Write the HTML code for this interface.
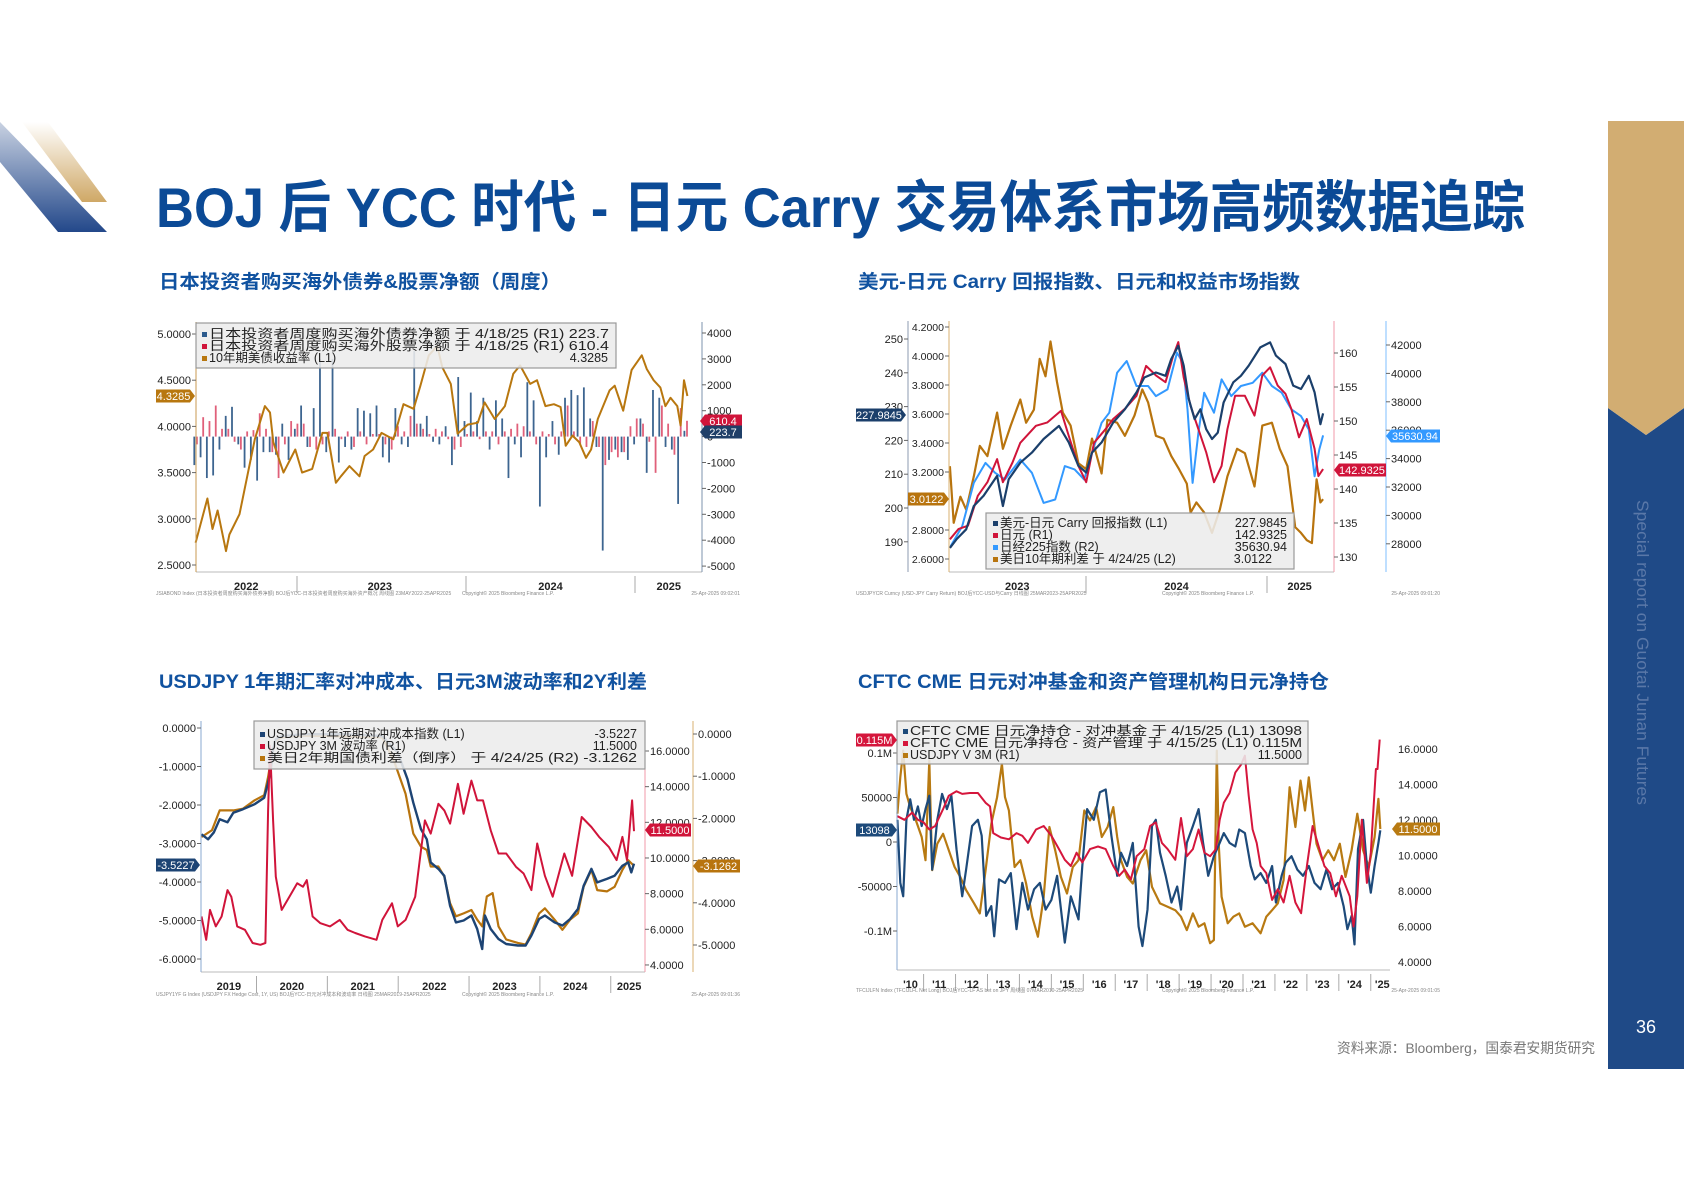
<!DOCTYPE html>
<html><head><meta charset="utf-8"><title>BOJ 后 YCC 时代 - 日元 Carry 交易体系市场高频数据追踪</title>
<style>
html,body{margin:0;padding:0;background:#fff;}
svg{display:block;font-family:"Liberation Sans","Noto Sans CJK SC",sans-serif;}
</style></head>
<body>
<svg id="page" xmlns="http://www.w3.org/2000/svg" width="1684" height="1191" viewBox="0 0 1684 1191">
<defs>
<linearGradient id="gb" x1="0" y1="0" x2="0" y2="1"><stop offset="0" stop-color="#c9d2e2"/><stop offset="1" stop-color="#23488a"/></linearGradient>
<linearGradient id="gg" x1="0" y1="0" x2="0" y2="1"><stop offset="0" stop-color="#ffffff"/><stop offset="1" stop-color="#cfa866"/></linearGradient>
</defs>
<rect x="0" y="0" width="1684" height="1191" fill="#fff"/>
<polygon points="0,122 0,162 58,232 107,232" fill="url(#gb)"/>
<polygon points="22,122 48,122 107,202 82,202" fill="url(#gg)"/>
<text x="156" y="227" font-size="56" font-weight="bold" fill="#0b4a96" textLength="1369" lengthAdjust="spacingAndGlyphs">BOJ 后 YCC 时代 - 日元 Carry 交易体系市场高频数据追踪</text>
<text x="159" y="288" font-size="19" font-weight="bold" fill="#1052a0" textLength="402" lengthAdjust="spacingAndGlyphs">日本投资者购买海外债券&amp;股票净额（周度）</text>
<text x="858" y="288" font-size="19" font-weight="bold" fill="#1052a0" textLength="442" lengthAdjust="spacingAndGlyphs">美元-日元 Carry 回报指数、日元和权益市场指数</text>
<text x="159" y="688" font-size="19" font-weight="bold" fill="#1052a0" textLength="488" lengthAdjust="spacingAndGlyphs">USDJPY 1年期汇率对冲成本、日元3M波动率和2Y利差</text>
<text x="858" y="688" font-size="19" font-weight="bold" fill="#1052a0" textLength="471" lengthAdjust="spacingAndGlyphs">CFTC CME 日元对冲基金和资产管理机构日元净持仓</text>
<polygon points="1608,408 1646,435 1684,408 1684,1069 1608,1069" fill="#1f4a87"/>
<polygon points="1608,121 1684,121 1684,408 1646,435 1608,408" fill="#d2ad72"/>
<text x="0" y="0" transform="translate(1637,500) rotate(90)" font-size="17" fill="#5a78a8" textLength="305" lengthAdjust="spacingAndGlyphs">Special report on Guotai Junan Futures</text>
<text x="1646" y="1033" font-size="18" fill="#fff" text-anchor="middle">36</text>
<text x="1595" y="1053" font-size="14" fill="#777" text-anchor="end" textLength="258" lengthAdjust="spacingAndGlyphs">资料来源：Bloomberg，国泰君安期货研究</text>
<g id="charts"></g>
</svg>
<script>
// ===== Chart 1 data =====
const c1YieldDates=[2022.40,2022.47,2022.50,2022.53,2022.58,2022.60,2022.66,2022.71,2022.75,2022.81,2022.84,2022.86,2022.92,2022.99,2023.03,2023.09,2023.15,2023.18,2023.23,2023.26,2023.31,2023.37,2023.40,2023.45,2023.50,2023.57,2023.63,2023.69,2023.73,2023.78,2023.83,2023.86,2023.91,2023.95,2024.01,2024.07,2024.11,2024.17,2024.23,2024.28,2024.32,2024.38,2024.42,2024.47,2024.52,2024.56,2024.59,2024.63,2024.67,2024.71,2024.74,2024.78,2024.85,2024.88,2024.93,2024.98,2025.04,2025.07,2025.11,2025.15,2025.18,2025.21,2025.25,2025.27,2025.29,2025.31];
const c1YieldVals=[2.74,3.22,2.89,3.09,2.65,2.83,3.05,3.50,3.86,4.22,4.15,3.83,3.50,3.75,3.50,3.54,3.93,3.93,3.39,3.46,3.57,3.46,3.68,3.75,3.93,3.86,4.24,4.19,4.44,4.77,4.87,4.64,4.46,3.92,4.02,4.04,4.26,4.08,4.22,4.57,4.66,4.46,4.50,4.22,4.24,4.21,3.79,3.90,3.83,3.66,3.75,4.08,4.39,4.44,4.17,4.61,4.77,4.62,4.50,4.42,4.22,4.31,4.22,4.01,4.50,4.3285];
const c1BarStart=2022.40, c1BarEnd=2025.30;
const c1BondVals=[-1.1,-0.8,-1.6,-1.5,-0.5,0.8,1.15,-0.3,-1.2,-0.9,-1.7,-0.6,-0.6,-0.7,0.5,-0.9,0.3,1.2,-0.4,1.1,3.0,-0.6,3.0,-1.0,-0.4,-0.5,1.1,1.0,0.9,1.2,-0.8,-1.0,1.1,-0.3,-0.4,3.3,0.5,0.8,-0.2,-0.3,0.4,-1.1,2.3,0.6,1.7,0.6,1.5,-0.5,1.4,0.7,-1.6,-0.3,-0.8,2.1,1.4,-2.7,-0.8,0.6,-0.7,1.5,1.8,1.6,1.9,0.7,-0.4,-4.4,-0.9,-0.5,-0.6,-0.9,-0.3,0.7,-1.4,1.8,1.5,-0.4,-0.5,-2.6,0.2237];
const c1StockVals=[-0.3,0.75,0.6,1.2,0.3,0.3,-0.2,-0.5,0.2,0.25,0.9,0.3,-0.6,-1.6,-0.3,0.6,0.5,0.5,-0.4,-0.5,-0.3,0.2,0.3,-0.1,0.2,-0.4,0.2,-0.3,0.1,0.1,-0.3,-0.5,0.4,0.2,0.8,0.5,0.3,0.1,0.3,0.2,-0.1,-0.5,-0.4,0.1,0.2,-0.1,0.2,0.2,-0.3,0.2,0.3,0.5,0.4,0.2,-0.3,0.2,0.1,-0.3,0.2,1.2,0.2,-0.3,-0.4,0.6,-0.4,-1.1,-0.6,-0.8,-0.6,0.4,0.7,0.5,-0.2,-1.4,1.2,0.5,-0.7,1.1,0.6104];
const c1LeftTicks=[5.0,4.5,4.0,3.5,3.0,2.5];
const c1RightTicks=[4,3,2,1,0,-1,-2,-3,-4,-5];
const c1RightLabels=["4000","3000","2000","1000","0","-1000","-2000","-3000","-4000","-5000"];
const c1Years=["2022","2023","2024","2025"];
const c1YearPos=[2022.70,2023.49,2024.50,2025.20];
const c1YearDiv=[2023,2024,2025];

// ===== Chart 2 data =====
const c2CarryDates=[2023.248,2023.284,2023.338,2023.380,2023.434,2023.509,2023.541,2023.573,2023.637,2023.701,2023.766,2023.851,2023.905,2023.958,2024.001,2024.033,2024.086,2024.150,2024.215,2024.279,2024.322,2024.386,2024.439,2024.471,2024.510,2024.540,2024.568,2024.600,2024.632,2024.664,2024.696,2024.728,2024.760,2024.814,2024.856,2024.899,2024.963,2025.017,2025.049,2025.102,2025.145,2025.188,2025.231,2025.263,2025.295,2025.310];
const c2CarryVals=[188.2,190.7,193.7,200.6,203.6,209.5,200.6,208.5,213.4,216.4,220.4,224.3,219.4,212.5,210.5,216.4,219.4,225.3,229.2,234.2,238.6,240.1,239.1,244.1,248.0,242.1,232.2,226.3,229.2,223.3,220.4,222.3,231.2,237.2,239.1,242.1,247.5,249.0,245.1,242.6,236.2,235.2,239.1,234.2,224.8,227.98];
const c2YenDates=[2023.248,2023.295,2023.348,2023.402,2023.455,2023.509,2023.541,2023.594,2023.637,2023.723,2023.787,2023.862,2023.905,2023.958,2024.001,2024.044,2024.108,2024.150,2024.215,2024.279,2024.332,2024.386,2024.439,2024.482,2024.510,2024.540,2024.578,2024.621,2024.664,2024.707,2024.749,2024.781,2024.824,2024.878,2024.931,2024.974,2025.017,2025.059,2025.102,2025.134,2025.177,2025.220,2025.263,2025.284,2025.310];
const c2YenVals=[132.6,134.1,134.6,139.0,141.0,144.4,141.0,143.9,146.8,149.3,149.8,151.5,147.8,143.4,141.0,146.8,148.8,150.3,151.8,153.7,158.1,156.7,155.7,159.6,161.6,156.4,152.2,148.8,145.4,141.0,143.4,148.8,153.7,153.7,150.8,156.7,157.9,155.2,154.0,151.8,147.6,150.3,145.9,141.9,142.93];
const c2NikDates=[2023.252,2023.316,2023.380,2023.445,2023.498,2023.552,2023.637,2023.701,2023.766,2023.830,2023.883,2023.937,2023.990,2024.033,2024.086,2024.129,2024.172,2024.225,2024.279,2024.343,2024.386,2024.450,2024.503,2024.536,2024.561,2024.589,2024.621,2024.653,2024.707,2024.749,2024.803,2024.856,2024.921,2024.974,2025.027,2025.081,2025.134,2025.188,2025.231,2025.263,2025.289,2025.310];
const c2NikVals=[27830,29240,32290,33700,33000,32530,33940,33000,30880,31120,33470,33240,32530,34410,36520,37230,40050,40870,39110,39110,38400,38870,41460,40750,37470,32290,35820,38640,37230,39580,38400,39110,39340,40050,39110,38640,37470,36990,36050,32760,34640,35630.94];
const c2SprDates=[2023.248,2023.269,2023.306,2023.338,2023.380,2023.413,2023.455,2023.509,2023.541,2023.584,2023.637,2023.669,2023.712,2023.744,2023.776,2023.804,2023.840,2023.872,2023.915,2023.958,2024.001,2024.033,2024.086,2024.118,2024.172,2024.215,2024.268,2024.311,2024.343,2024.386,2024.429,2024.471,2024.514,2024.557,2024.578,2024.610,2024.653,2024.696,2024.739,2024.781,2024.835,2024.878,2024.931,2024.974,2025.027,2025.070,2025.113,2025.156,2025.188,2025.220,2025.248,2025.274,2025.295,2025.310];
const c2SprVals=[3.24,2.85,3.03,2.94,3.17,3.38,3.31,3.61,3.36,3.52,3.70,3.54,3.63,3.98,3.86,4.10,3.82,3.61,3.52,3.26,3.22,3.43,3.19,3.56,3.54,3.45,3.59,3.77,3.68,3.45,3.43,3.31,3.22,3.12,2.92,2.99,2.92,2.78,2.94,3.17,3.36,3.33,3.10,3.52,3.54,3.36,3.24,2.82,2.78,2.73,2.71,3.15,2.99,3.0122];
const c2L1Ticks=[250,240,230,220,210,200,190];
const c2L2Ticks=[4.2,4.0,3.8,3.6,3.4,3.2,2.8,2.6];
const c2R1Ticks=[160,155,150,145,140,135,130];
const c2R2Ticks=[42000,40000,38000,36000,34000,32000,30000,28000];
const c2Years=["2023","2024","2025"];
const c2YearPos=[2023.62,2024.50,2025.18];
const c2YearDiv=[2024,2025];

// ===== Chart 3 data =====
const c3HedgeDates=[2019.224,2019.317,2019.399,2019.481,2019.590,2019.672,2019.809,2019.973,2020.109,2020.164,2020.202,2020.235,2020.273,2020.355,2020.683,2021.230,2021.776,2021.995,2022.131,2022.213,2022.322,2022.404,2022.459,2022.568,2022.650,2022.732,2022.814,2022.923,2023.033,2023.115,2023.186,2023.224,2023.306,2023.415,2023.525,2023.689,2023.798,2023.880,2023.989,2024.071,2024.208,2024.317,2024.426,2024.536,2024.617,2024.727,2024.809,2024.945,2025.055,2025.164,2025.246,2025.290,2025.328];
const c3HedgeVals=[-2.76,-2.89,-2.71,-2.37,-2.45,-2.20,-2.11,-1.98,-1.81,-1.42,-1.07,-0.55,-0.29,-0.21,-0.16,-0.16,-0.21,-0.64,-1.33,-1.94,-2.63,-2.89,-3.49,-3.66,-3.84,-4.62,-5.05,-5.00,-4.87,-5.22,-5.74,-4.87,-5.22,-5.48,-5.61,-5.65,-5.65,-5.39,-4.96,-4.87,-5.05,-5.13,-4.96,-4.70,-4.10,-3.66,-4.01,-3.92,-3.84,-3.58,-3.49,-3.75,-3.5227];
const c3SprDates=[2019.224,2019.372,2019.481,2019.590,2019.672,2019.809,2019.973,2020.109,2020.164,2020.219,2020.273,2020.355,2020.683,2021.230,2021.776,2021.940,2022.104,2022.213,2022.322,2022.404,2022.459,2022.568,2022.650,2022.732,2022.814,2022.923,2023.033,2023.115,2023.186,2023.251,2023.333,2023.415,2023.525,2023.689,2023.798,2023.880,2023.989,2024.071,2024.208,2024.317,2024.426,2024.536,2024.617,2024.727,2024.809,2024.945,2025.055,2025.164,2025.246,2025.328];
const c3SprVals=[-2.44,-2.28,-1.81,-1.81,-1.81,-1.77,-1.57,-1.45,-1.02,-0.47,-0.16,-0.08,-0.04,-0.06,-0.08,-0.63,-1.42,-2.36,-2.67,-2.75,-3.14,-3.14,-3.38,-4.01,-4.32,-4.25,-4.17,-4.40,-4.56,-3.85,-3.77,-4.56,-4.87,-4.95,-4.99,-4.72,-4.25,-4.13,-4.40,-4.64,-4.40,-4.25,-3.62,-3.22,-3.70,-3.73,-3.62,-3.22,-2.99,-3.1262];
const c3VolDates=[2019.224,2019.290,2019.344,2019.426,2019.508,2019.590,2019.645,2019.727,2019.836,2019.945,2020.055,2020.126,2020.164,2020.191,2020.235,2020.273,2020.355,2020.464,2020.574,2020.656,2020.710,2020.792,2020.902,2021.038,2021.175,2021.284,2021.393,2021.530,2021.694,2021.776,2021.913,2021.995,2022.104,2022.240,2022.322,2022.377,2022.459,2022.568,2022.650,2022.732,2022.842,2022.923,2023.033,2023.115,2023.197,2023.306,2023.415,2023.525,2023.661,2023.770,2023.880,2023.962,2024.071,2024.180,2024.344,2024.454,2024.590,2024.727,2024.836,2024.973,2025.082,2025.164,2025.230,2025.301,2025.328];
const c3VolVals=[6.72,5.41,7.09,6.16,6.72,8.20,7.83,6.16,5.97,5.23,5.13,5.23,12.67,16.3,12.11,8.95,7.09,7.83,8.58,8.39,8.76,6.72,6.34,6.16,6.53,5.97,5.79,5.60,5.41,6.53,7.46,6.16,6.53,7.83,10.44,12.11,11.37,13.04,12.67,11.93,14.16,12.48,14.34,13.23,13.23,11.55,10.25,10.25,9.51,9.13,8.20,10.81,9.00,7.83,10.25,9.00,12.30,11.74,11.18,10.62,9.88,11.18,9.88,13.23,11.50];
const c3LTicks=[0,-1,-2,-3,-4,-5,-6];
const c3R1Ticks=[16,14,12,10,8,6,4];
const c3R2Ticks=[0,-1,-2,-3,-4,-5];
const c3Years=["2019","2020","2021","2022","2023","2024","2025"];
const c3YearPos=[2019.61,2020.50,2021.50,2022.51,2023.50,2024.50,2025.26];
const c3YearDiv=[2020,2021,2022,2023,2024,2025];

// ===== Chart 4 data =====
const c4HfDates=[2010.18,2010.27,2010.36,2010.46,2010.58,2010.70,2010.82,2010.94,2011.06,2011.18,2011.27,2011.43,2011.58,2011.73,2011.87,2012.03,2012.21,2012.33,2012.52,2012.70,2012.82,2012.96,2013.12,2013.21,2013.36,2013.55,2013.73,2013.91,2014.09,2014.27,2014.46,2014.64,2014.82,2015.00,2015.18,2015.42,2015.61,2015.85,2015.97,2016.12,2016.33,2016.52,2016.70,2016.88,2017.06,2017.18,2017.37,2017.55,2017.73,2017.85,2018.01,2018.15,2018.27,2018.40,2018.58,2018.76,2018.94,2019.06,2019.24,2019.43,2019.61,2019.75,2019.91,2020.09,2020.27,2020.40,2020.58,2020.76,2020.88,2021.06,2021.24,2021.37,2021.55,2021.73,2021.91,2022.03,2022.21,2022.34,2022.52,2022.70,2022.88,2023.06,2023.24,2023.43,2023.61,2023.79,2023.97,2024.15,2024.27,2024.40,2024.49,2024.60,2024.76,2024.88,2025.00,2025.12,2025.24,2025.30];
const c4HfVals=[25,-46,-61,25,48,25,40,18,37,52,-31,25,54,37,52,-8,-61,-31,18,25,7,-83,-72,-106,-42,-46,-35,-98,-46,-76,-53,-46,-76,-65,-38,-113,-61,-87,-27,37,25,56,59,7,-38,-12,-27,-1,-95,-117,-76,18,25,-12,-38,-68,-50,-76,-1,18,37,-1,-38,-16,-1,10,-1,-5,14,10,-27,-42,-35,-46,-27,-68,-38,-23,-16,-31,-38,-27,-46,-53,-31,-53,-46,-72,-98,-83,-115,-8,25,-27,-57,-27,-1,13.098];
const c4AmDates=[2010.18,2010.40,2010.64,2010.82,2011.00,2011.18,2011.36,2011.61,2011.79,2012.03,2012.21,2012.45,2012.70,2012.94,2013.08,2013.18,2013.42,2013.67,2013.91,2014.09,2014.27,2014.52,2014.76,2015.00,2015.24,2015.42,2015.61,2015.79,2015.97,2016.21,2016.46,2016.70,2016.94,2017.12,2017.30,2017.49,2017.67,2017.91,2018.09,2018.27,2018.46,2018.64,2018.88,2019.06,2019.24,2019.43,2019.61,2019.79,2019.97,2020.15,2020.27,2020.40,2020.58,2020.76,2020.94,2021.06,2021.18,2021.30,2021.43,2021.55,2021.73,2021.91,2022.09,2022.27,2022.46,2022.64,2022.82,2023.00,2023.18,2023.37,2023.55,2023.73,2023.91,2024.09,2024.34,2024.46,2024.58,2024.72,2024.88,2025.00,2025.16,2025.21,2025.28];
const c4AmVals=[29,25,33,25,22,14,18,37,52,57,54,55,55,44,40,10,5,3,10,7,-1,14,18,7,-8,-20,-27,-12,-23,-8,-5,-8,-27,-38,-31,-42,-16,-8,18,22,-1,-8,-20,27,-16,-8,14,-12,-16,-8,25,44,55,78,87,97,52,14,-1,-27,-35,-65,-53,-68,-38,-68,-80,-27,18,-5,-27,-35,-61,-38,-61,-95,-61,25,-46,-12,82,82,115];
const c4VolDates=[2010.18,2010.27,2010.36,2010.46,2010.58,2010.76,2010.94,2011.06,2011.18,2011.27,2011.43,2011.61,2011.79,2011.97,2012.15,2012.33,2012.58,2012.76,2012.94,2013.12,2013.30,2013.45,2013.55,2013.67,2013.85,2014.03,2014.21,2014.40,2014.58,2014.76,2014.94,2015.12,2015.30,2015.49,2015.67,2015.85,2016.03,2016.21,2016.40,2016.58,2016.76,2016.94,2017.06,2017.18,2017.37,2017.55,2017.79,2017.97,2018.15,2018.40,2018.64,2018.88,2019.06,2019.24,2019.43,2019.61,2019.79,2019.97,2020.09,2020.18,2020.24,2020.33,2020.52,2020.70,2020.88,2021.06,2021.30,2021.55,2021.73,2021.91,2022.09,2022.27,2022.46,2022.64,2022.80,2022.94,2023.06,2023.18,2023.30,2023.49,2023.67,2023.85,2024.03,2024.21,2024.40,2024.58,2024.76,2024.94,2025.12,2025.24,2025.30];
const c4VolVals=[12.36,14.41,15.91,13.48,12.73,11.98,11.05,9.74,15.35,9.18,10.67,11.23,10.30,9.36,8.80,8.06,7.31,6.75,9.18,11.79,13.29,15.16,13.29,12.54,9.36,9.74,8.43,6.56,5.44,7.68,11.61,10.30,8.80,7.87,9.36,9.74,12.54,11.98,12.73,11.05,11.61,12.73,11.05,9.74,8.80,8.43,9.74,10.30,8.24,7.31,7.12,6.93,6.56,5.81,6.75,6.00,6.19,5.07,5.25,15.91,10.67,7.68,6.19,6.56,6.75,6.00,6.19,5.63,6.56,6.93,7.31,8.62,13.85,11.61,14.22,12.54,14.41,12.54,10.67,9.74,10.30,9.74,10.67,8.80,10.30,12.36,10.30,9.36,11.05,13.20,11.50];
const c4LTicks=[100,50,0,-50,-100];
const c4LLabels=["0.1M","50000","0","-50000","-0.1M"];
const c4RTicks=[16,14,12,10,8,6,4];
const c4Years=["'10","'11","'12","'13","'14","'15","'16","'17","'18","'19","'20","'21","'22","'23","'24","'25"];
const c4YearPos=[2010.59,2011.49,2012.50,2013.49,2014.50,2015.49,2016.50,2017.49,2018.50,2019.49,2020.48,2021.49,2022.49,2023.48,2024.49,2025.36];
const c4YearDiv=[2011,2012,2013,2014,2015,2016,2017,2018,2019,2020,2021,2022,2023,2024,2025];

// ===== Rendering =====
const NS='http://www.w3.org/2000/svg';
const root=document.getElementById('charts');
function el(tag,attrs,parent,name){
  const e=document.createElementNS(NS,tag);
  for(const k in attrs){e.setAttribute(k,attrs[k]);}
  
  
  parent.appendChild(e);
  return e;
}
function txt(parent,x,y,s,size,fill,anchor,name,extra){
  const a={x:x,y:y,'font-size':size,fill:fill,'text-anchor':anchor||'start'};
  if(extra){for(const k in extra){a[k]=extra[k];}}
  const t=el('text',a,parent,name);
  t.textContent=s;
  return t;
}
function series(parent,dates,vals,xf,yf,color,w,name){
  let d='';
  for(let i=0;i<dates.length;i++){d+=(i?'L':'M')+xf(dates[i]).toFixed(1)+' '+yf(vals[i]).toFixed(1);}
  el('path',{d:d,fill:'none',stroke:color,'stroke-width':w,'stroke-linejoin':'round'},parent,name);
}
function vline(parent,x,y1,y2,color,name,w){el('line',{x1:x,x2:x,y1:y1,y2:y2,stroke:color,'stroke-width':w||1},parent,name);}
function hline(parent,x1,x2,y,color,name){el('line',{x1:x1,x2:x2,y1:y,y2:y,stroke:color,'stroke-width':1},parent,name);}
function yTicks(parent,vals,labels,yf,axisX,side,size,name){
  for(let i=0;i<vals.length;i++){
    const y=yf(vals[i]);
    if(side==='left'){
      el('line',{x1:axisX-4,x2:axisX,y1:y,y2:y,stroke:'#666','stroke-width':1},parent,name+'-tick');
      txt(parent,axisX-5,y+4,labels[i],size,'#222','end',name+'-label');
    }else{
      el('line',{x1:axisX,x2:axisX+4,y1:y,y2:y,stroke:'#666','stroke-width':1},parent,name+'-tick');
      txt(parent,axisX+5,y+4,labels[i],size,'#222','start',name+'-label');
    }
  }
}
function years(parent,labels,pos,divs,xf,bottom,name){
  for(let i=0;i<labels.length;i++){txt(parent,xf(pos[i]),bottom+18,labels[i],11,'#222','middle',name+'-label',{'font-weight':'bold'});}
  for(let i=0;i<divs.length;i++){vline(parent,xf(divs[i]),bottom+4,bottom+21,'#aaa',name+'-divider');}
}
function tag(parent,x1,x2,y,s,color,pointRight,name){
  const h=6.5;
  const pts=pointRight?
    [x1,y-h,x2-5,y-h,x2,y,x2-5,y+h,x1,y+h]:
    [x1,y,x1+5,y-h,x2,y-h,x2,y+h,x1+5,y+h];
  const g=el('g',{},parent,name);
  el('polygon',{points:pts.join(' '),fill:color},g,name+'-bg');
  txt(g,(x1+x2)/2+(pointRight?-2:2),y+4,s,11,'#fff','middle',name+'-text');
}
function legendBox(parent,x1,y1,x2,y2,name){
  return el('rect',{x:x1,y:y1,width:x2-x1,height:y2-y1,fill:'#ececec','fill-opacity':0.88,stroke:'#999','stroke-width':1.2},parent,name);
}
function legendItem(parent,x,y,color,label,val,valX,len,name){
  const g=el('g',{},parent,name);
  el('rect',{x:x,y:y-6,width:5,height:5,fill:color},g,name+'-swatch');
  const ex=len?{textLength:len,lengthAdjust:'spacingAndGlyphs'}:null;
  txt(g,x+7,y,label,12.5,'#222','start',name+'-label',ex);
  if(val){txt(g,valX,y,val,12.5,'#222','end',name+'-value');}
}
function foot(parent,x1,x2,y,a,b,c,name){
  txt(parent,x1,y,a,5,'#888','start',name+'-ticker');
  txt(parent,(x1+x2)/2+60,y,b,5,'#888','middle',name+'-copyright');
  txt(parent,x2,y,c,5,'#888','end',name+'-timestamp');
}
function fmt4(v){return v.toFixed(4);}

// ---- Chart 1 ----
(function(){
  const g=el('g',{},root,'chart1');
  const xf=t=>297+(t-2023)*169;
  const yL=v=>334+(5-v)/0.5*46.2;
  const yR=v=>436.6-v*25.9;
  const top=322, bot=572;
  hline(g,196,702,bot,'#bbb','chart1-x-axis');
  const n=c1BondVals.length, step=(c1BarEnd-c1BarStart)/(n-1);
  for(let i=0;i<n;i++){
    const x=xf(c1BarStart+i*step);
    const v=c1BondVals[i], y0=yR(0), y1=yR(v);
    el('rect',{x:x-2.2,y:Math.min(y0,y1),width:1.8,height:Math.max(0.5,Math.abs(y1-y0)),fill:'#3d6590'},g,'bond-bar');
  }
  for(let i=0;i<c1StockVals.length;i++){
    const x=xf(c1BarStart+i*step);
    const v=c1StockVals[i], y0=yR(0), y1=yR(v);
    el('rect',{x:x+0.4,y:Math.min(y0,y1),width:1.8,height:Math.max(0.5,Math.abs(y1-y0)),fill:'#e0607a'},g,'stock-bar');
  }
  series(g,c1YieldDates,c1YieldVals,xf,yL,'#b8770f',2,'us10y-yield-line');
  vline(g,196,top,bot,'#c89a50','chart1-left-axis');
  vline(g,702,top,bot,'#7d93ad','chart1-right-axis');
  yTicks(g,c1LeftTicks,c1LeftTicks.map(fmt4),yL,196,'left',11,'chart1-left');
  yTicks(g,c1RightTicks,c1RightLabels,yR,702,'right',11,'chart1-right');
  years(g,c1Years,c1YearPos,c1YearDiv,xf,bot,'chart1-year');
  legendBox(g,196,323,616,368,'chart1-legend');
  legendItem(g,202,338,'#2b5a8c','日本投资者周度购买海外债券净额 于 4/18/25 (R1) 223.7',null,0,400,'legend-bond');
  legendItem(g,202,350,'#d0143a','日本投资者周度购买海外股票净额 于 4/18/25 (R1) 610.4',null,0,400,'legend-stock');
  legendItem(g,202,362,'#b8770f','10年期美债收益率 (L1)','4.3285',608,0,'legend-yield');
  tag(g,156,195,396,'4.3285','#b8770f',true,'chart1-tag-yield');
  tag(g,700,742,421,'610.4','#d0143a',false,'chart1-tag-stock');
  tag(g,700,742,432,'223.7','#1f3f68',false,'chart1-tag-bond');
  foot(g,156,740,595,'JSIABOND Index (日本投资者周度购买海外债券净额) BOJ后YCC-日本投资者周度购买海外资产概况  周线图 23MAY2022-25APR2025','Copyright© 2025 Bloomberg Finance L.P.','25-Apr-2025 09:02:01','chart1-footnote');
})();

// ---- Chart 2 ----
(function(){
  const g=el('g',{},root,'chart2');
  const xf=t=>1086+(t-2024)*181;
  const yL1=v=>339+(250-v)*3.38;
  const yL2=v=>327+(4.2-v)*145;
  const yR1=v=>353+(160-v)*6.8;
  const yR2=v=>345+(42000-v)*0.0142;
  const top=321, bot=572;
  hline(g,949,1334,bot,'#bbb','chart2-x-axis');
  series(g,c2SprDates,c2SprVals,xf,yL2,'#b8740e',2.2,'us-jp-10y-spread-line');
  series(g,c2NikDates,c2NikVals,xf,yR2,'#3399ff',2,'nikkei225-line');
  series(g,c2YenDates,c2YenVals,xf,yR1,'#d0143a',2,'usdjpy-line');
  series(g,c2CarryDates,c2CarryVals,xf,yL1,'#1b3f6b',2.2,'carry-index-line');
  vline(g,908,top,bot,'#8c9bb0','chart2-l1-axis');
  vline(g,949,top,bot,'#d8b070','chart2-l2-axis');
  vline(g,1334,top,bot,'#f09aa8','chart2-r1-axis');
  vline(g,1386,top,bot,'#7fbfff','chart2-r2-axis');
  yTicks(g,c2L1Ticks,c2L1Ticks.map(String),yL1,908,'left',11,'chart2-l1');
  yTicks(g,c2L2Ticks,c2L2Ticks.map(fmt4),yL2,949,'left',10.5,'chart2-l2');
  yTicks(g,c2R1Ticks,c2R1Ticks.map(String),yR1,1334,'right',11,'chart2-r1');
  yTicks(g,c2R2Ticks,c2R2Ticks.map(String),yR2,1386,'right',11,'chart2-r2');
  years(g,c2Years,c2YearPos,c2YearDiv,xf,bot,'chart2-year');
  legendBox(g,986,513,1294,569,'chart2-legend');
  legendItem(g,993,527,'#1b3f6b','美元-日元 Carry 回报指数 (L1)','227.9845',1287,0,'legend-carry');
  legendItem(g,993,539,'#d0143a','日元 (R1)','142.9325',1287,0,'legend-yen');
  legendItem(g,993,551,'#3399ff','日经225指数 (R2)','35630.94',1287,0,'legend-nikkei');
  legendItem(g,993,563,'#b8740e','美日10年期利差 于 4/24/25 (L2)','3.0122',1272,0,'legend-spread');
  tag(g,856,906,415,'227.9845','#1b3f6b',true,'chart2-tag-carry');
  tag(g,908,949,499,'3.0122','#b8740e',true,'chart2-tag-spread');
  tag(g,1334,1386,470,'142.9325','#d0143a',false,'chart2-tag-yen');
  tag(g,1386,1440,436,'35630.94','#3399ff',false,'chart2-tag-nikkei');
  foot(g,856,1440,595,'USDJPYCR Curncy (USD-JPY Carry Return) BOJ后YCC-USD与Carry  日线图 25MAR2023-25APR2025','Copyright© 2025 Bloomberg Finance L.P.','25-Apr-2025 09:01:20','chart2-footnote');
})();

// ---- Chart 3 ----
(function(){
  const g=el('g',{},root,'chart3');
  const xf=t=>256.5+(t-2020)*70.85;
  const yL=v=>728-v*38.5;
  const yR1=v=>751+(16-v)*17.83;
  const yR2=v=>734-v*42.2;
  const top=721, bot=972;
  hline(g,201,645,bot,'#bbb','chart3-x-axis');
  series(g,c3SprDates,c3SprVals,xf,yR2,'#b8740e',2.2,'us-jp-2y-spread-line');
  series(g,c3HedgeDates,c3HedgeVals,xf,yL,'#1d4474',2.4,'hedge-cost-line');
  series(g,c3VolDates,c3VolVals,xf,yR1,'#d0143a',2,'usdjpy-3m-vol-line');
  vline(g,201,top,bot,'#8aa8d0','chart3-left-axis');
  vline(g,645,top,bot,'#f09aa8','chart3-r1-axis');
  vline(g,693,top,bot,'#d8b070','chart3-r2-axis');
  yTicks(g,c3LTicks,c3LTicks.map(fmt4),yL,201,'left',11,'chart3-left');
  yTicks(g,c3R1Ticks,c3R1Ticks.map(fmt4),yR1,645,'right',11,'chart3-r1');
  yTicks(g,c3R2Ticks,c3R2Ticks.map(fmt4),yR2,693,'right',11,'chart3-r2');
  years(g,c3Years,c3YearPos,c3YearDiv,xf,bot,'chart3-year');
  legendBox(g,254,721,645,769,'chart3-legend');
  legendItem(g,260,738,'#1d4474','USDJPY 1年远期对冲成本指数 (L1)','-3.5227',637,0,'legend-hedge');
  legendItem(g,260,750,'#d0143a','USDJPY 3M 波动率 (R1)','11.5000',637,0,'legend-vol');
  legendItem(g,260,762,'#b8740e','美日2年期国债利差（倒序） 于 4/24/25 (R2) -3.1262',null,0,370,'legend-spread2y');
  tag(g,156,200,865,'-3.5227','#1d4474',true,'chart3-tag-hedge');
  tag(g,645,691,830,'11.5000','#d0143a',false,'chart3-tag-vol');
  tag(g,693,740,866,'-3.1262','#b8740e',false,'chart3-tag-spread');
  foot(g,156,740,996,'USJPY1YF G Index (USDJPY FX Hedge Cost, 1Y, US) BOJ后YCC-日元对冲成本和波动率  日线图 25MAR2019-25APR2025','Copyright© 2025 Bloomberg Finance L.P.','25-Apr-2025 09:01:36','chart3-footnote');
})();

// ---- Chart 4 ----
(function(){
  const g=el('g',{},root,'chart4');
  const xf=t=>923.6+(t-2011)*31.94;
  const yL=v=>842-v*0.89;
  const yR=v=>749+(16-v)*17.77;
  const top=721, bot=970;
  hline(g,897,1390,bot,'#bbb','chart4-x-axis');
  series(g,c4VolDates,c4VolVals,xf,yR,'#b87a12',2.2,'usdjpy-v3m-line');
  series(g,c4HfDates,c4HfVals,xf,yL,'#1d4a7a',2.2,'hedge-fund-position-line');
  series(g,c4AmDates,c4AmVals,xf,yL,'#d5163c',2,'asset-manager-position-line');
  vline(g,897,top,bot,'#8aa8d0','chart4-left-axis');
  yTicks(g,c4LTicks,c4LLabels,yL,897,'left',11,'chart4-left');
  for(let i=0;i<c4RTicks.length;i++){
    txt(g,1398,yR(c4RTicks[i])+4,fmt4(c4RTicks[i]),11,'#222','start','chart4-right-label');
  }
  years(g,c4Years,c4YearPos,c4YearDiv,xf,bot,'chart4-year');
  legendBox(g,897,721,1308,764,'chart4-legend');
  legendItem(g,903,735,'#1d4a7a','CFTC CME 日元净持仓 - 对冲基金 于 4/15/25 (L1) 13098',null,0,392,'legend-hedge-fund');
  legendItem(g,903,747,'#d5163c','CFTC CME 日元净持仓 - 资产管理 于 4/15/25 (L1) 0.115M',null,0,392,'legend-asset-manager');
  legendItem(g,903,759,'#b87a12','USDJPY V 3M (R1)','11.5000',1302,0,'legend-v3m');
  tag(g,856,897,740,'0.115M','#d5163c',true,'chart4-tag-am');
  tag(g,856,897,830,'13098','#1d4a7a',true,'chart4-tag-hf');
  tag(g,1392,1440,829,'11.5000','#b87a12',false,'chart4-tag-vol');
  foot(g,856,1440,992,'TFCIJLFN Index (TFCIJLFL Net Long) BOJ后YCC-LF AS bet on JPY  周线图 07MAR2010-25APR2025','Copyright© 2025 Bloomberg Finance L.P.','25-Apr-2025 09:01:05','chart4-footnote');
})();
</script>
</body></html>
